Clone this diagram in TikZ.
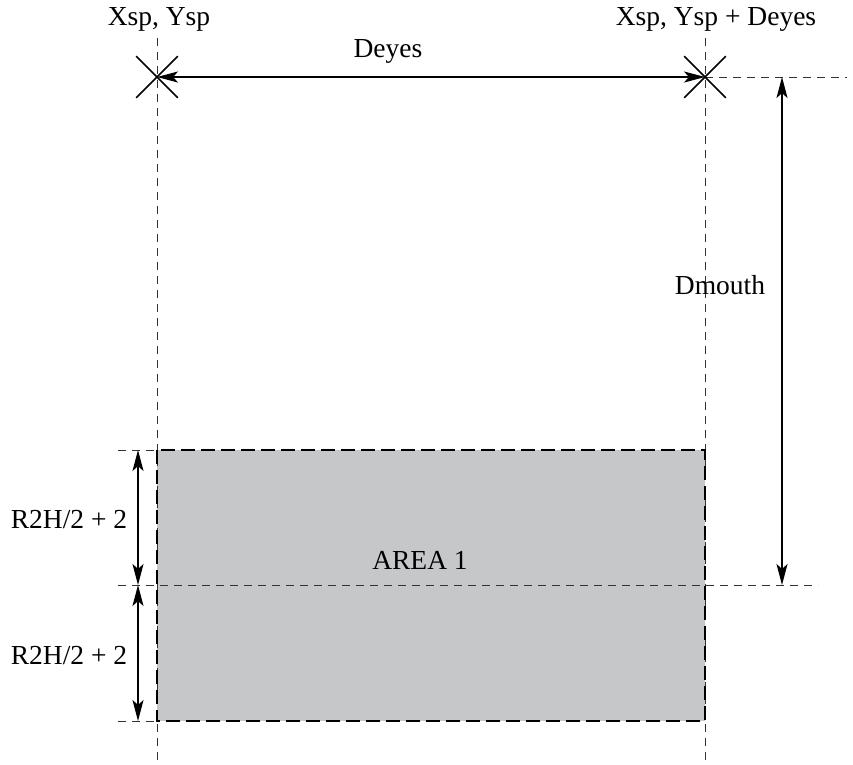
\documentclass[tikz,border=0pt]{standalone}
\usepackage{fontspec}
\setmainfont{Liberation Serif}
\usetikzlibrary{arrows.meta,shapes.misc}
\begin{document}
\begin{tikzpicture}[x=1pt,y=-1pt,
  guide/.style={draw=black!80, line width=0.9pt, dash pattern=on 8pt off 6pt},
  border/.style={draw=black, line width=1.9pt, dash pattern=on 14pt off 6pt},
  dim/.style={line width=2pt, {Stealth[length=21pt,width=11pt,inset=5pt]}-{Stealth[length=21pt,width=11pt,inset=5pt]}},
  label/.style={font=\fontsize{27.5}{31}\selectfont, inner sep=0pt},
  eyemark/.style={cross out, draw=black, line width=1.6pt, minimum size=40pt, inner sep=0pt}
]
\useasboundingbox (0,0) rectangle (853,764);

% reference points
\coordinate (L0) at (157,38);
\coordinate (L1) at (157,762);
\coordinate (R0) at (705,38);
\coordinate (R1) at (705,762);
\coordinate (TL) at (157,450);
\coordinate (BR) at (705,721);
\coordinate (Htop) at (118,450);
\coordinate (Hmid) at (118,585);
\coordinate (Hbot) at (118,721);
\coordinate (Hmidend) at (818,585);
\coordinate (Eyeend) at (847,77);
\coordinate (A0) at (138,450);
\coordinate (A1) at (138,585);
\coordinate (A2) at (138,721);
\coordinate (M0) at (782,77);
\coordinate (M1) at (782,585);

% shaded area
\fill[fill={rgb,255:red,198;green,199;blue,201}] (TL) rectangle (BR);

% guide lines
\draw[guide] (L0) -- (L1);
\draw[guide] (R0) -- (R1);
\draw[guide] (Htop) -- (TL);
\draw[guide] (Hbot) -- (157,721);
\draw[guide] (Hmid) -- (Hmidend);
\draw[guide] (705,77) -- (Eyeend);

% area border
\draw[border] (TL) rectangle (BR);

% eye markers
\node[eyemark] (e1) at (157,77) {};
\node[eyemark] (e2) at (705,77) {};

% dimension arrows
\draw[dim] (e1.center) -- (e2.center);
\draw[dim] (M0) -- (M1);
\draw[dim] (A0) -- (A1);
\draw[dim] (A1) -- (A2);

% labels
\node[label] (t1) at (159,19) {Xsp, Ysp};
\node[label] (t2) at (716,19) {Xsp, Ysp + Deyes};
\node[label] (t3) at (388,51) {Deyes};
\node[label] (t4) at (720,285) {Dmouth};
\node[label] (t5) at (420,560) {AREA 1};
\node[label] (t6) at (69,520) {R2H/2 + 2};
\node[label] (t7) at (69,656) {R2H/2 + 2};
\end{tikzpicture}
\end{document}
